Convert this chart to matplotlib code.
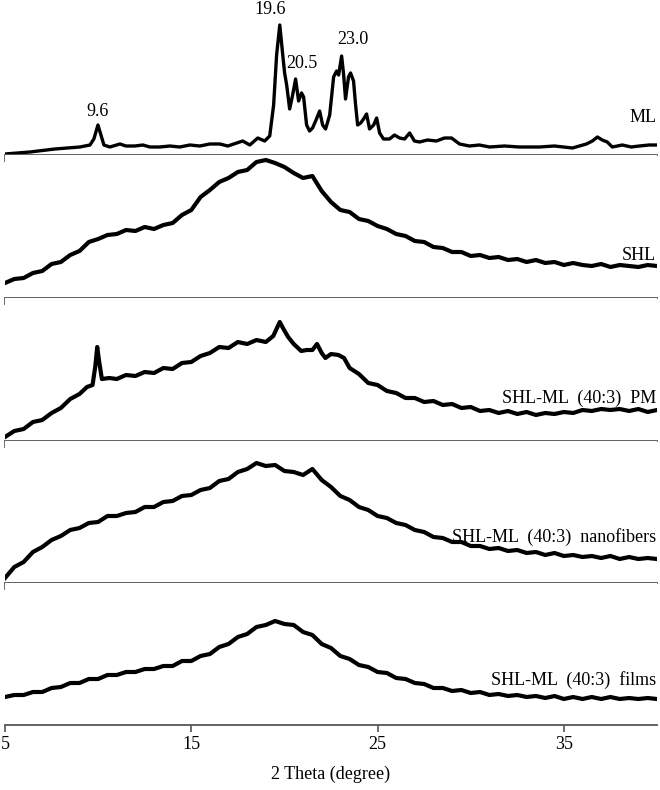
import matplotlib.pyplot as plt

plt.rcParams["font.family"] = ["Liberation Serif", "DejaVu Serif"]

# 2 theta (degree) and intensity (a.u.)
ml_x = [5.0, 6.34, 7.68, 9.02, 9.56, 9.77, 9.99, 10.15, 10.31, 10.63, 11.17, 11.49,
        11.97, 12.40, 12.78, 13.31, 13.85, 14.38, 14.92, 15.46, 15.99, 16.53, 16.96,
        17.76, 18.14, 18.57, 18.94, 19.21, 19.42, 19.58, 19.75, 19.91, 20.01, 20.12,
        20.28, 20.44, 20.60, 20.76, 20.92, 21.03, 21.19, 21.35, 21.51, 21.72, 21.89,
        22.05, 22.21, 22.43, 22.64, 22.80, 22.91, 23.07, 23.18, 23.28, 23.44, 23.55,
        23.71, 23.82, 23.93, 24.09, 24.25, 24.41, 24.57, 24.79, 24.95, 25.11, 25.32,
        25.64, 25.91, 26.18, 26.45, 26.72, 26.98, 27.25, 27.68, 28.16, 28.59, 28.97,
        29.40, 29.93, 30.47, 31.01, 31.81, 32.61, 33.69, 34.49, 35.46, 36.21, 36.53,
        36.80, 37.06, 37.33, 37.60, 38.14, 38.62, 39.05, 39.58, 40.0]
ml_y = [1, 3, 6, 8, 10, 16, 30, 20, 10, 8, 11, 9,
        9, 10, 8, 8, 9, 8, 10, 9, 11, 11, 9,
        14, 10, 17, 14, 19, 50, 100, 130, 100, 82, 70,
        46, 60, 76, 54, 62, 58, 30, 24, 27, 36, 44,
        30, 26, 40, 78, 84, 80, 99, 80, 56, 78, 82,
        74, 50, 30, 32, 36, 41, 26, 30, 37, 22, 16,
        16, 20, 17, 16, 22, 14, 13, 15, 14, 17, 17,
        11, 9, 10, 8, 9, 8, 8, 9, 7, 11, 14,
        18, 15, 13, 8, 10, 8, 9, 10, 10]

grid_x = [5.0 + 0.5 * i for i in range(71)]

shl_y = [15, 19, 20, 25, 27, 34, 36, 43, 47, 56, 59, 63,
         64, 68, 67, 71, 69, 73, 75, 83, 88, 101, 108, 116,
         120, 126, 128, 136, 138, 135, 131, 125, 120, 122, 107, 96,
         88, 86, 79, 77, 72, 69, 64, 62, 57, 56, 51, 50,
         46, 46, 42, 43, 40, 41, 38, 39, 36, 38, 35, 36,
         33, 35, 33, 32, 34, 31, 33, 32, 31, 33, 32]

pm_x = [5.0, 5.5, 6.0, 6.5, 7.0, 7.5, 8.0, 8.5, 9.0, 9.4, 9.7, 9.85, 9.95, 10.05,
        10.2, 10.6, 11.0, 11.5, 12.0, 12.5, 13.0, 13.5, 14.0, 14.5, 15.0, 15.5,
        16.0, 16.5, 17.0, 17.5, 18.0, 18.5, 19.0, 19.4, 19.6, 19.75, 19.95, 20.2,
        20.5, 20.9, 21.2, 21.5, 21.75, 22.0, 22.2, 22.5, 22.9, 23.2, 23.5, 24.0,
        24.5, 25.0, 25.5, 26.0, 26.5, 27.0, 27.5, 28.0, 28.5, 29.0, 29.5, 30.0,
        30.5, 31.0, 31.5, 32.0, 32.5, 33.0, 33.5, 34.0, 34.5, 35.0, 35.5, 36.0,
        36.5, 37.0, 37.5, 38.0, 38.5, 39.0, 39.5, 40.0]
pm_y = [4, 10, 12, 19, 21, 28, 33, 42, 47, 54, 56, 75, 94, 80,
        62, 63, 62, 66, 65, 69, 68, 73, 72, 78, 79, 85,
        88, 94, 93, 99, 97, 101, 99, 105, 113, 119, 112, 104,
        97, 90, 91, 91, 97, 88, 83, 87, 86, 83, 73, 67,
        58, 56, 50, 48, 43, 43, 39, 40, 36, 37, 33, 34,
        30, 31, 28, 30, 27, 29, 26, 28, 27, 29, 28, 31,
        30, 32, 31, 32, 30, 32, 29, 31]

nano_y = [5, 16, 21, 31, 36, 43, 47, 53, 55, 60, 61, 67,
          67, 70, 71, 76, 76, 81, 82, 87, 88, 93, 95, 102,
          104, 111, 114, 120, 117, 118, 112, 111, 108, 114, 103, 96,
          87, 83, 76, 73, 67, 65, 60, 58, 53, 51, 46, 45,
          41, 41, 37, 37, 34, 35, 32, 33, 30, 31, 28, 30,
          27, 28, 26, 27, 25, 27, 24, 26, 24, 25, 24]

films_y = [28, 30, 30, 33, 33, 37, 38, 42, 42, 46, 46, 50,
           50, 53, 53, 56, 56, 59, 59, 64, 64, 69, 71, 78,
           81, 88, 91, 98, 100, 104, 101, 100, 93, 90, 81, 77,
           69, 66, 60, 58, 53, 52, 47, 46, 42, 41, 37, 37,
           34, 35, 32, 33, 30, 31, 29, 30, 28, 29, 27, 29,
           26, 28, 26, 28, 26, 28, 26, 27, 26, 27, 26]

series = [
    (ml_x, ml_y, "ML"),
    (grid_x, shl_y, "SHL"),
    (pm_x, pm_y, "SHL-ML  (40:3)  PM"),
    (grid_x, nano_y, "SHL-ML  (40:3)  nanofibers"),
    (grid_x, films_y, "SHL-ML  (40:3)  films"),
]
line_w = [2.4, 3.0, 3.0, 3.0, 3.0]

# panel edges in pixels from the top of the 660x790 picture
edges = [0, 155, 298, 441, 583, 725]
label_y = [118, 256, 398, 537, 680]

fig = plt.figure(figsize=(6.6, 7.9), dpi=100)
W, H = 660.0, 790.0
axes = []
for i, (xs, ys, name) in enumerate(series):
    top, bot = edges[i], edges[i + 1]
    ax = fig.add_axes([5 / W, 1 - bot / H, 652 / W, (bot - top) / H])
    ax.plot(xs, ys, color="black", lw=line_w[i], solid_joinstyle="round")
    ax.set_xlim(5, 40)
    ax.set_ylim(0, bot - top)
    for s in ["top", "left", "right"]:
        ax.spines[s].set_visible(False)
    ax.spines["bottom"].set_color("#555555")
    ax.spines["bottom"].set_linewidth(1.3)
    ax.set_yticks([])
    ax.set_xticks([5, 15, 25, 35])
    ax.tick_params(axis="x", direction="out", length=5, width=1.2, color="#555555",
                   labelsize=13, pad=3)
    if i < len(series) - 1:
        ax.set_xticklabels([])
    ax.text(39.95, bot - label_y[i], name, ha="right", va="center", fontsize=13)
    axes.append(ax)

# peak labels on ML pattern
peak_names = ["9.6", "19.6", "20.5", "23.0"]
peak_x = [9.99, 19.21, 20.93, 23.66]
peak_px = [112, 10, 63, 40]
for name, px, py in zip(peak_names, peak_x, peak_px):
    axes[0].text(px, 155 - py, name, ha="center", va="center", fontsize=13)

axes[-1].set_xlabel("2 Theta (degree)", fontsize=13, labelpad=9)

plt.savefig("out.png")
